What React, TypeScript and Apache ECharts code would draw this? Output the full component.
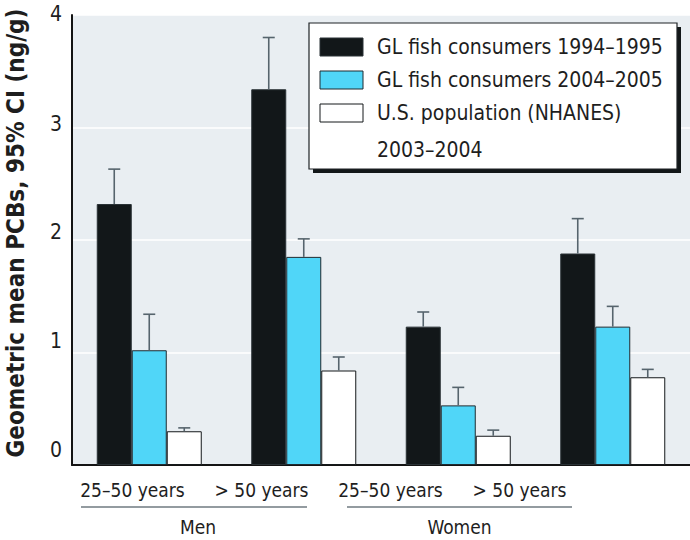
import React, { useEffect, useRef } from "react";
import * as echarts from "echarts";

const categories = ["25–50 years", "> 50 years", "25–50 years", "> 50 years"];
const groups = ["Men", "Women"];
const seriesNames = [
  "GL fish consumers 1994–1995",
  "GL fish consumers 2004–2005",
  "U.S. population (NHANES)\n2003–2004",
];
const gl1994 = [2.32, 3.34, 1.23, 1.88];
const gl1994Upper = [2.63, 3.8, 1.36, 2.19];
const gl2004 = [1.02, 1.85, 0.53, 1.23];
const gl2004Upper = [1.34, 2.01, 0.69, 1.41];
const nhanes = [0.3, 0.84, 0.26, 0.78];
const nhanesUpper = [0.33, 0.96, 0.31, 0.85];
const yTicks = [0, 1, 2, 3, 4];
const yTitle = "Geometric mean PCBs, 95% CI (ng/g)";

const FONT = "'DejaVu Sans Condensed', 'DejaVu Sans', sans-serif";
const COLORS = ["#121719", "#50d6f8", "#ffffff"];
const BORDERS = ["#2a3236", "#1f2b31", "#15191b"];
const BAR_W = 35;

export default function App() {
  const ref = useRef<HTMLDivElement>(null);
  useEffect(() => {
    if (!ref.current) return;
    const chart = echarts.init(ref.current, null, { renderer: "svg" });
    const values = [gl1994, gl2004, nhanes];
    const uppers = [gl1994Upper, gl2004Upper, nhanesUpper];

    const barSeries = values.map((vals, i) => ({
      type: "bar",
      name: seriesNames[i],
      xAxisIndex: 0,
      yAxisIndex: 0,
      data: vals,
      barWidth: BAR_W,
      barGap: "0%",
      itemStyle: { color: COLORS[i], borderColor: BORDERS[i], borderWidth: 1 },
      z: 2,
    }));

    const errSeries = values.map((vals, i) => ({
      type: "custom",
      name: seriesNames[i] + " CI",
      xAxisIndex: 0,
      yAxisIndex: 0,
      z: 3,
      data: vals.map((v, k) => [k, v, uppers[i][k]]),
      renderItem: (params: any, api: any) => {
        const idx = api.value(0);
        const base = api.coord([idx, api.value(1)]);
        const top = api.coord([idx, api.value(2)]);
        const x = base[0] + (i - 1) * BAR_W;
        const style = { stroke: "#56646d", lineWidth: 1.6 };
        return {
          type: "group",
          children: [
            { type: "line", shape: { x1: x, y1: base[1], x2: x, y2: top[1] }, style },
            { type: "line", shape: { x1: x - 6, y1: top[1], x2: x + 6, y2: top[1] }, style },
          ],
        };
      },
    }));

    const yOffsets: Record<string, number> = { "0": 30, "1": 24, "2": 16, "3": 8, "4": 2 };
    const rich: Record<string, any> = {};
    yTicks.forEach((t) => {
      rich["t" + t] = { fontSize: 21, fontFamily: FONT, color: "#1e1e1e", padding: [0, 0, yOffsets[String(t)], 0] };
    });

    const legendRows = [47, 80, 113];
    const legendGraphics: any[] = [
      { type: "rect", shape: { x: 313, y: 27, width: 368, height: 146 }, style: { fill: "#121719" }, z: 10 },
      { type: "rect", shape: { x: 309, y: 23, width: 368, height: 146 }, style: { fill: "#ffffff", stroke: "#1e2326", lineWidth: 1.2 }, z: 11 },
    ];
    seriesNames.forEach((n, i) => {
      const cy = legendRows[i];
      legendGraphics.push({
        type: "rect",
        shape: { x: 320, y: cy - 9, width: 43, height: 18 },
        style: { fill: COLORS[i], stroke: BORDERS[i], lineWidth: 1 },
        z: 12,
      });
      legendGraphics.push({
        type: "text",
        x: 377,
        y: cy - 18.5,
        style: {
          text: n,
          font: `21px ${FONT}`,
          fill: "#1e1e1e",
          lineHeight: 37,
          verticalAlign: "top",
          align: "left",
        },
        z: 12,
      });
    });

    const groupGraphics: any[] = [];
    const groupSpans = [
      [81, 307],
      [347, 572],
    ];
    groups.forEach((g, i) => {
      const [a, b] = groupSpans[i];
      groupGraphics.push({
        type: "line",
        shape: { x1: a, y1: 507, x2: b, y2: 507 },
        style: { stroke: "#6f7a81", lineWidth: 1.5 },
      });
      groupGraphics.push({
        type: "text",
        x: (a + b) / 2 + (i === 0 ? 4 : 0),
        y: 527,
        style: { text: g, font: `19px ${FONT}`, fill: "#1e1e1e", align: "center", verticalAlign: "middle" },
      });
    });

    chart.setOption({
      animation: false,
      backgroundColor: "#ffffff",
      grid: [
        { left: 72, top: 15, width: 623, height: 450, show: true, backgroundColor: "#e9eef2", borderWidth: 0 },
        { left: 68, top: 15, width: 516, height: 450, show: false },
      ],
      xAxis: [
        {
          type: "category",
          gridIndex: 0,
          data: categories,
          axisLine: { show: true, onZero: false, lineStyle: { color: "#141414", width: 2 } },
          axisTick: { show: false },
          axisLabel: { show: false },
          splitLine: { show: false },
        },
        {
          type: "category",
          gridIndex: 1,
          data: categories,
          axisLine: { show: false },
          axisTick: { show: false },
          axisLabel: { show: true, interval: 0, margin: 15, fontSize: 19, fontFamily: FONT, color: "#1e1e1e" },
          splitLine: { show: false },
        },
      ],
      yAxis: [
        {
          type: "value",
          gridIndex: 0,
          min: 0,
          max: 4,
          interval: 1,
          axisLine: { show: true, lineStyle: { color: "#141414", width: 2 } },
          axisTick: { show: false },
          axisLabel: {
            margin: 10,
            fontSize: 21,
            fontFamily: FONT,
            color: "#1e1e1e",
            formatter: (v: number) => `{t${v}|${v}}`,
            rich,
          },
          splitLine: { show: true, lineStyle: { color: "#ffffff", width: 1.5 } },
        },
        { type: "value", gridIndex: 1, min: 0, max: 4, show: false },
      ],
      graphic: [
        {
          type: "text",
          x: 16,
          y: 233,
          rotation: Math.PI / 2,
          style: {
            text: yTitle,
            font: `bold 24px ${FONT}`,
            fill: "#1e1e1e",
            align: "center",
            verticalAlign: "middle",
          },
        },
        ...legendGraphics,
        ...groupGraphics,
      ],
      series: [...barSeries, ...errSeries],
    });
    return () => chart.dispose();
  }, []);
  return (
    <div
      ref={ref}
      style={{ position: "fixed", left: 0, top: 0, width: 690, height: 540 }}
    />
  );
}
